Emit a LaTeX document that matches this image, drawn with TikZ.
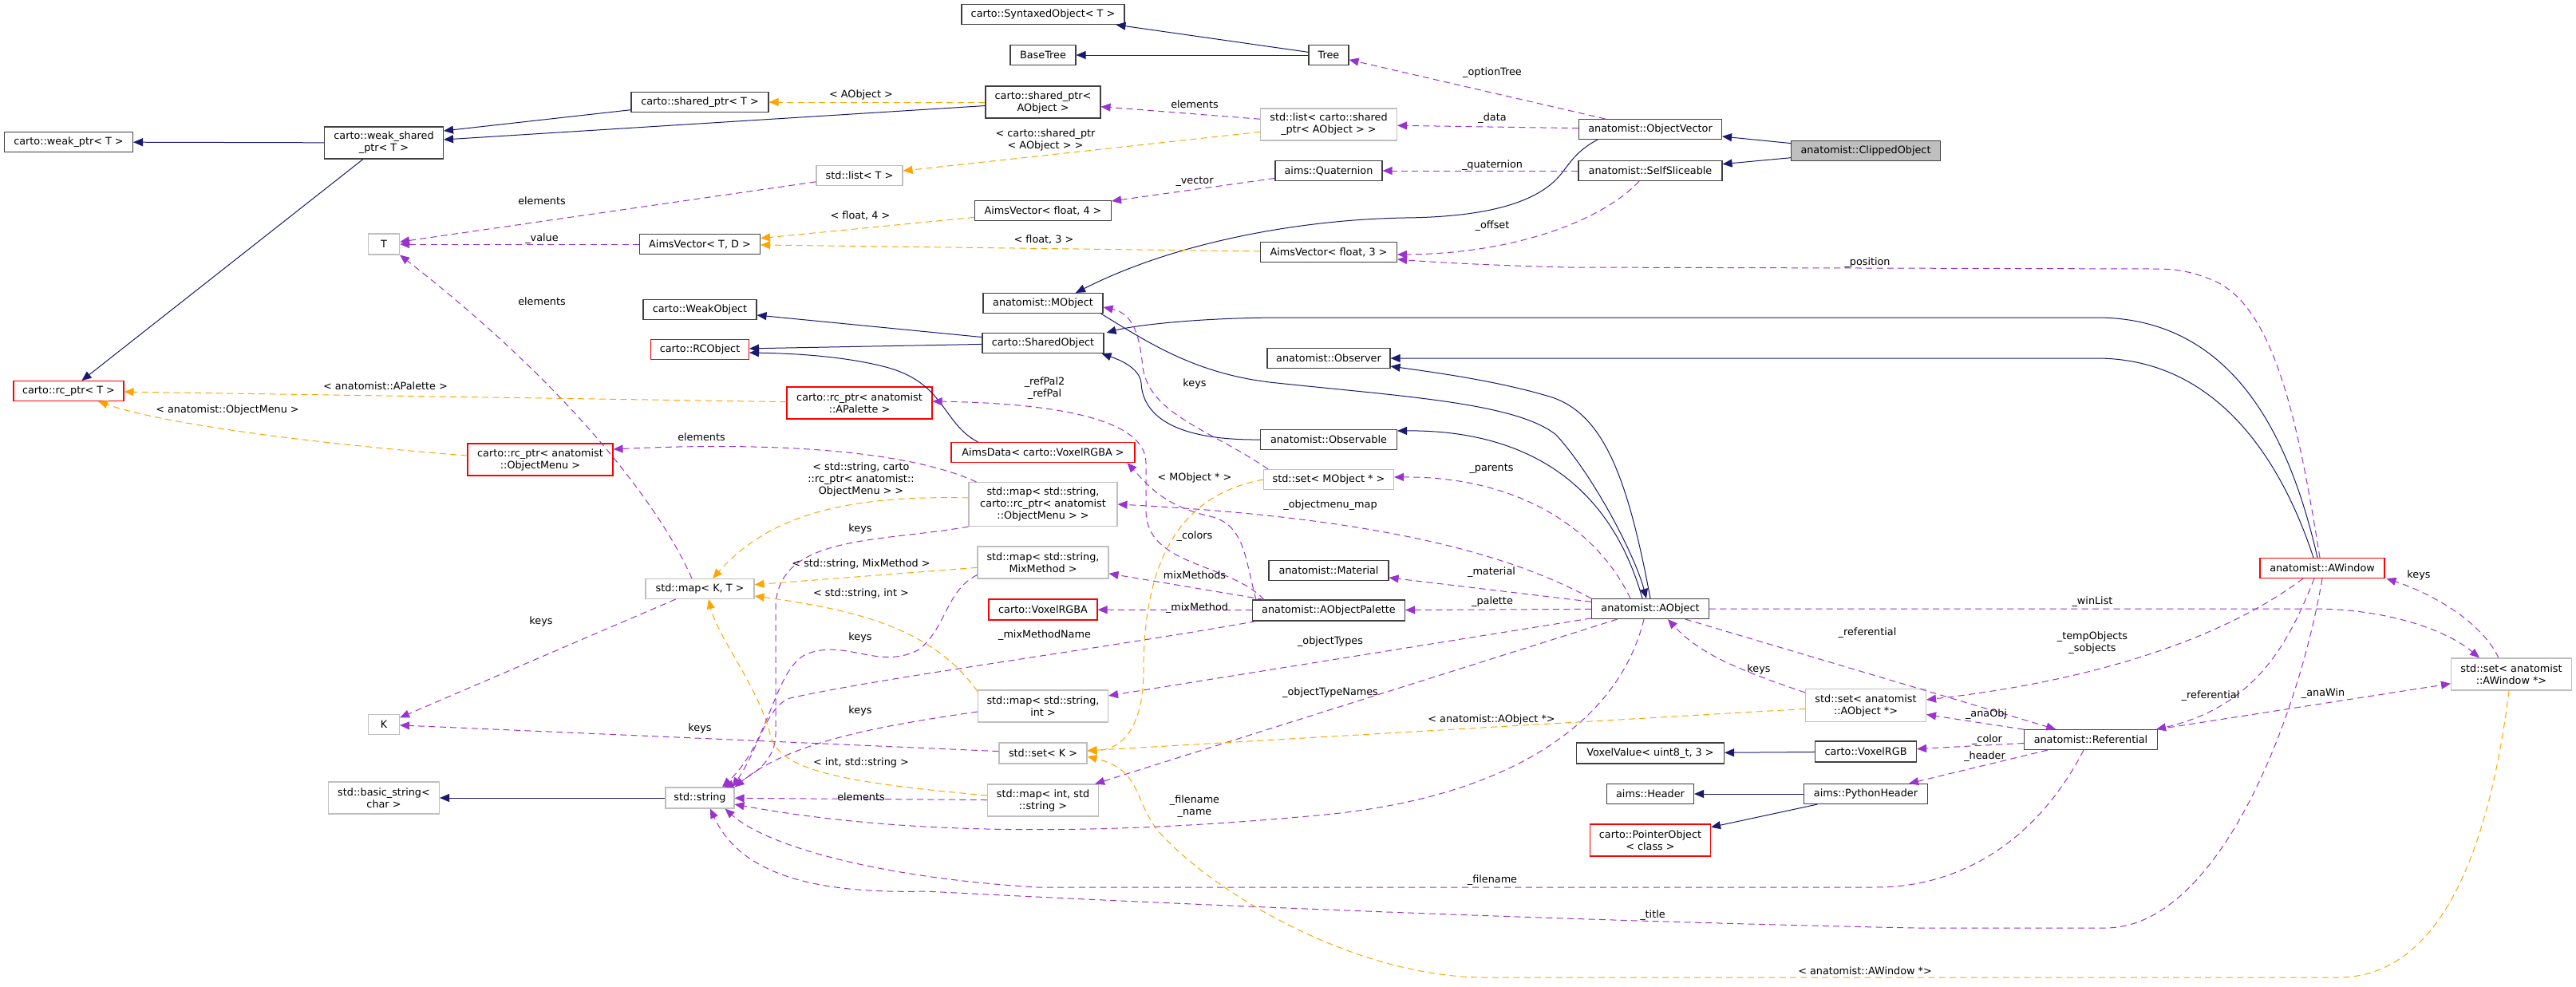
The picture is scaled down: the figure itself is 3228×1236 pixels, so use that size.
\documentclass[tikz,border=0pt]{standalone}
\usepackage{fontspec}
\setmainfont{DejaVu Sans}
\usetikzlibrary{arrows.meta,calc}
\definecolor{dxnavy}{HTML}{191970}
\definecolor{dxpurple}{HTML}{9A32CD}
\definecolor{dxorange}{HTML}{FFA500}
\definecolor{dxgray}{HTML}{BFBFBF}
\definecolor{dxred}{HTML}{FF0000}

\begin{document}
\begin{tikzpicture}[x=0.75pt,y=-0.75pt,
  font=\fontsize{9.6}{11.25}\selectfont,
  cls/.style={draw=black!75, line width=0.8pt, fill=white, inner sep=1pt, align=center},
  ext/.style={cls, draw=dxgray},
  inc/.style={cls, draw=dxred},
  cur/.style={cls, fill=dxgray},
  sz/.style 2 args={minimum width=#1*0.75pt, minimum height=#2*0.75pt},
  lbl/.style={inner sep=0pt, align=center, text=black},
  inh/.style={draw=dxnavy, line width=0.75pt, -{Triangle[length=9pt,width=7.5pt]}},
  use/.style={draw=dxpurple, line width=0.75pt, dash pattern=on 6pt off 4pt, -{Triangle[length=9pt,width=7.5pt]}},
  tpl/.style={use, draw=dxorange}]

  \path[use as bounding box, fill=white] (0,0) rectangle (3228,1236);

  % ---- classes, left half ----------------------------------
  \node[cls, sz={161}{25}] (weakptr) at (86,178) {carto::weak\_ptr< T >};
  \node[cls, sz={149}{40}] (weakshared) at (481,179) {carto::weak\_shared\\\_ptr< T >};
  \node[ext, sz={39}{26}] (T) at (481,306) {T};
  \node[inc, sz={138}{25}] (rcT) at (86,490) {carto::rc\_ptr< T >};
  \node[inc, sz={182}{40}] (rcMenu) at (677,576) {carto::rc\_ptr< anatomist\\::ObjectMenu >};
  \node[ext, sz={39}{25}] (K) at (481,908) {K};
  \node[ext, sz={139}{40}] (bstring) at (481,1000) {std::basic\_string<\\char >};

  \node[cls, sz={172}{25}] (sharedT) at (877,128) {carto::shared\_ptr< T >};
  \node[cls, sz={151}{25}] (avTD) at (877,306) {AimsVector< T, D >};
  \node[cls, sz={142}{25}] (weakobj) at (877,388) {carto::WeakObject};
  \node[inc, sz={123}{25}] (rcobj) at (877,438) {carto::RCObject};
  \node[ext, sz={136}{25}] (mapKT) at (877,738) {std::map< K, T >};
  \node[ext, sz={86}{26}] (string) at (877,1000) {std::string};

  \node[ext, sz={108}{25}] (listT) at (1077,220) {std::list< T >};
  \node[inc, sz={182}{40}] (rcPal) at (1077,505) {carto::rc\_ptr< anatomist\\::APalette >};

  % ---- classes, middle column -------------------------------
  \node[cls, sz={204}{25}] (syntaxed) at (1307,18) {carto::SyntaxedObject< T >};
  \node[cls, sz={82}{25}] (basetree) at (1307,69) {BaseTree};
  \node[cls, sz={144}{40}] (sharedAO) at (1307,128) {carto::shared\_ptr<\\AObject >};
  \node[cls, sz={171}{25}] (av4) at (1307,264) {AimsVector< float, 4 >};
  \node[cls, sz={150}{25}] (mobj) at (1307,380) {anatomist::MObject};
  \node[cls, sz={152}{25}] (sharedobj) at (1307,430) {carto::SharedObject};
  \node[inc, sz={230}{25}] (aimsdata) at (1307,567) {AimsData< carto::VoxelRGBA >};
  \node[ext, sz={186}{55}] (mapMenu) at (1307,632) {std::map< std::string,\\carto::rc\_ptr< anatomist\\::ObjectMenu > >};
  \node[ext, sz={164}{40}] (mapMix) at (1307,705) {std::map< std::string,\\MixMethod >};
  \node[inc, sz={136}{26}] (voxrgba) at (1307,764) {carto::VoxelRGBA};
  \node[ext, sz={163}{40}] (mapInt) at (1307,885) {std::map< std::string,\\int >};
  \node[ext, sz={110}{26}] (setK) at (1307,944) {std::set< K >};
  \node[ext, sz={139}{40}] (mapIntStr) at (1307,1003) {std::map< int, std\\::string >};

  \node[cls, sz={50}{25}] (tree) at (1665,69) {Tree};
  \node[ext, sz={171}{40}] (listSP) at (1665,156) {std::list< carto::shared\\\_ptr< AObject > >};
  \node[cls, sz={134}{25}] (quat) at (1665,214) {aims::Quaternion};
  \node[cls, sz={171}{25}] (av3) at (1665,316) {AimsVector< float, 3 >};
  \node[cls, sz={154}{25}] (observer) at (1665,449) {anatomist::Observer};
  \node[cls, sz={171}{25}] (observable) at (1665,551) {anatomist::Observable};
  \node[ext, sz={163}{25}] (setMObj) at (1665,601) {std::set< MObject * >};
  \node[cls, sz={150}{25}] (material) at (1665,715) {anatomist::Material};
  \node[cls, sz={191}{26}] (aopal) at (1665,765) {anatomist::AObjectPalette};

  % ---- classes, right half ----------------------------------
  \node[cls, sz={179}{25}] (objvec) at (2068,162) {anatomist::ObjectVector};
  \node[cls, sz={180}{25}] (selfsl) at (2068,214) {anatomist::SelfSliceable};
  \node[cls, sz={147}{25}] (aobj) at (2068,763) {anatomist::AObject};
  \node[cls, sz={185}{26}] (voxval) at (2068,944) {VoxelValue< uint8\_t, 3 >};
  \node[cls, sz={109}{25}] (header) at (2068,995) {aims::Header};
  \node[inc, sz={151}{40}] (ptrobj) at (2068,1053) {carto::PointerObject\\< class >};

  \node[cur, sz={187}{25}] (clipped) at (2338,189) {anatomist::ClippedObject};
  \node[ext, sz={151}{41}] (setAObj) at (2338,884) {std::set< anatomist\\::AObject *>};
  \node[cls, sz={127}{26}] (voxrgb) at (2338,942) {carto::VoxelRGB};
  \node[cls, sz={155}{25}] (pyheader) at (2338,995) {aims::PythonHeader};

  \node[cls, sz={167}{25}] (refer) at (2620,927) {anatomist::Referential};
  \node[inc, sz={156}{25}] (awin) at (2910,712) {anatomist::AWindow};
  \node[ext, sz={151}{40}] (setAWin) at (3147,845) {std::set< anatomist\\::AWindow *>};

  % ---- inheritance ------------------------------------------
  \draw[inh] (clipped) -- (objvec);
  \draw[inh] (clipped) -- (selfsl);
  \draw[inh] (tree) -- (syntaxed);
  \draw[inh] (tree) -- (basetree);
  \draw[inh] (sharedT) -- ($(weakshared.east)+(0,-15)$);
  \draw[inh] (sharedAO) -- ($(weakshared.east)+(0,-4)$);
  \draw[inh] (weakshared) -- (weakptr);
  \draw[inh] (weakshared) -- (rcT);
  \draw[inh] ($(objvec.south west)+(24,0)$) .. controls (1970,192) and (1965,210) .. (1950,225)
    .. controls (1920,255) and (1860,272) .. (1760,273) .. controls (1640,275) and (1480,300) .. ($(mobj.north)+(41,0)$);
  \draw[inh] ($(mobj.south east)+(-3,0)$) .. controls (1440,430) and (1500,470) .. (1600,480)
    .. controls (1760,497) and (1900,505) .. (1950,545) .. controls (2000,600) and (2050,700) .. ($(aobj.north)+(-5,0)$);
  \draw[inh] (aobj.north) .. controls (2040,600) and (2010,520) .. (1945,498)
    .. controls (1880,478) and (1800,467) .. ($(observer.south east)+(0,-3)$);
  \draw[inh] ($(aobj.north)+(-10,0)$) .. controls (2010,580) and (1880,539) .. ($(observable.north east)+(0,2)$);
  \draw[inh] ($(awin.north)+(-11,0)$) .. controls (2860,580) and (2780,449) .. (2627,449) -- (observer.east);
  \draw[inh] ($(awin.north)+(-6,0)$) .. controls (2870,550) and (2800,398) .. (2627,398) -- (1610,398)
    .. controls (1500,398) and (1420,408) .. ($(sharedobj.north east)+(3,0)$);
  \draw[inh] (observable.west) .. controls (1470,552) and (1432,520) .. (1430,480)
    .. controls (1428,460) and (1400,450) .. ($(sharedobj.south east)+(-3,0)$);
  \draw[inh] (sharedobj) -- (weakobj);
  \draw[inh] (sharedobj) -- (rcobj);
  \draw[inh] ($(aimsdata.north west)+(34,0)$) .. controls (1180,530) and (1185,480) .. (1110,460)
    .. controls (1060,447) and (1000,443) .. ($(rcobj.east)+(0,4)$);
  \draw[inh] (voxrgb) -- (voxval);
  \draw[inh] (pyheader) -- (header);
  \draw[inh] (pyheader) -- (ptrobj);
  \draw[inh] (string) -- (bstring);

  % ---- members ----------------------------------------------
  \draw[use] (objvec) -- (tree) node[lbl] at (1870,91) {\_optionTree};
  \draw[use] (objvec) -- (listSP) node[lbl] at (1870,148) {\_data};
  \draw[use] (listSP) -- (sharedAO) node[lbl] at (1497,131) {elements};
  \draw[use] (selfsl) -- (quat) node[lbl] at (1870,207) {\_quaternion};
  \draw[use] (quat) -- (av4) node[lbl] at (1497,228) {\_vector};
  \draw[use] ($(selfsl.south)+(-14,0)$) .. controls (2010,275) and (1900,318) .. ($(av3.east)+(0,3)$)
    node[lbl] at (1870,283) {\_offset};
  \draw[use] ($(awin.north)+(-3,0)$) .. controls (2880,530) and (2850,380) .. (2770,350)
    .. controls (2740,338) and (2720,337) .. (2700,337) -- (1966,335)
    .. controls (1880,333) and (1800,329) .. ($(av3.east)+(0,9)$) node[lbl] at (2340,329) {\_position};
  \draw[use] ($(setMObj.north west)+(6,0)$) .. controls (1520,540) and (1440,520) .. (1432,460)
    .. controls (1428,420) and (1420,393) .. ($(mobj.east)+(0,5)$) node[lbl] at (1497,481) {keys};
  \draw[use] ($(aobj.north)+(-25,0)$) .. controls (2000,660) and (1900,597) .. ($(setMObj.east)+(0,-3)$)
    node[lbl] at (1869,588) {\_parents};
  \draw[use] (aobj.north west) .. controls (1900,700) and (1750,650) .. (mapMenu.east)
    node[lbl] at (1667,633) {\_objectmenu\_map};
  \draw[use] (aobj) -- (material) node[lbl] at (1869,717) {\_material};
  \draw[use] (aobj) -- (aopal) node[lbl] at (1870,754) {\_palette};
  \draw[use] (aobj) -- (mapInt) node[lbl] at (1667,804) {\_objectTypes};
  \draw[use] (aobj) -- (mapIntStr) node[lbl] at (1667,868) {\_objectTypeNames};
  \draw[use] ($(aobj.south)+(-8,0)$) .. controls (2030,900) and (1900,1000) .. (1650,1022)
    .. controls (1400,1045) and (1150,1050) .. ($(string.east)+(0,8)$) node[lbl] at (1497,1011) {\_filename\\\_name};
  \draw[use] (aobj) -- (refer) node[lbl] at (2340,793) {\_referential};
  \draw[use] (aobj.east) -- (2900,763) .. controls (2980,763) and (3060,785) .. ($(setAWin.north)+(-40,0)$)
    node[lbl] at (2622,754) {\_winList};
  \draw[use] ($(setAWin.north)+(-16,0)$) .. controls (3110,780) and (3050,745) .. ($(awin.south east)+(2,0)$)
    node[lbl] at (3031,721) {keys};
  \draw[use] ($(awin.south)+(-24,0)$) .. controls (2800,790) and (2650,850) .. ($(setAObj.east)+(0,-7)$)
    node[lbl] at (2622,806) {\_tempObjects\\\_sobjects};
  \draw[use] ($(awin.south)+(-10,0)$) .. controls (2870,800) and (2830,885) .. ($(refer.north east)+(-2,0)$)
    node[lbl] at (2770,872) {\_referential};
  \draw[use] (awin.south) .. controls (2880,900) and (2780,1163) .. (2638,1163) -- (2400,1163)
    .. controls (2000,1155) and (1500,1135) .. (1160,1117)
    .. controls (1030,1120) and (930,1100) .. ($(string.south)+(13,0)$) node[lbl] at (2071,1147) {\_title};
  \draw[use] ($(refer.south)+(-9,0)$) .. controls (2560,1040) and (2470,1112) .. (2350,1112) -- (1300,1112)
    .. controls (1100,1100) and (960,1060) .. ($(string.south east)+(-12,0)$) node[lbl] at (1870,1103) {\_filename};
  \draw[use] (refer) -- (setAObj) node[lbl] at (2489,895) {\_anaObj};
  \draw[use] (refer) -- (voxrgb) node[lbl] at (2490,927) {\_color};
  \draw[use] (refer) -- (pyheader) node[lbl] at (2487,948) {\_header};
  \draw[use] (refer) -- (setAWin) node[lbl] at (2911,869) {\_anaWin};
  \draw[use] ($(setAObj.north west)+(0,5)$) .. controls (2180,840) and (2130,820) .. ($(aobj.south)+(22,0)$)
    node[lbl] at (2204,839) {keys};
  \draw[use] (setK) -- (K) node[lbl] at (877,913) {keys};
  \draw[use] (mapKT) -- (K) node[lbl] at (678,779) {keys};
  \draw[use] ($(mapKT.north)+(-10,0)$) .. controls (830,640) and (720,490) .. (T.south east)
    node[lbl] at (679,378) {elements};
  \draw[use] (listT) -- (T) node[lbl] at (679,252) {elements};
  \draw[use] (avTD) -- (T) node[lbl] at (679,299) {\_value};
  \draw[use] ($(mapMenu.north west)+(10,0)$) .. controls (1150,570) and (1000,552) .. ($(rcMenu.east)+(0,-13)$)
    node[lbl] at (879,548) {elements};
  \draw[use] ($(aopal.north west)+(15,0)$) .. controls (1540,705) and (1436,710) .. (1436,640) -- (1436,580)
    .. controls (1436,520) and (1300,505) .. ($(rcPal.east)+(0,-2)$) node[lbl] at (1309,487) {\_refPal2\\\_refPal};
  \draw[use] ($(aopal.north west)+(5,0)$) .. controls (1560,700) and (1560,660) .. (1520,648)
    .. controls (1460,635) and (1440,610) .. ($(aimsdata.south east)+(-10,0)$) node[lbl] at (1497,672) {\_colors};
  \draw[use] (aopal) -- (mapMix) node[lbl] at (1497,721) {mixMethods};
  \draw[use] (aopal) -- (voxrgba) node[lbl] at (1500,762) {\_mixMethod};
  \draw[use] ($(aopal.south west)+(5,0)$) .. controls (1400,810) and (1100,850) .. (990,875)
    .. controls (960,885) and (950,940) .. ($(string.north east)+(-3,0)$) node[lbl] at (1309,796) {\_mixMethodName};
  \draw[use] (mapMenu.south west) .. controls (1100,680) and (975,670) .. (972,760) -- (972,920)
    .. controls (972,955) and (940,975) .. ($(string.north)+(30,0)$) node[lbl] at (1078,663) {keys};
  \draw[use] ($(mapMix.south west)+(0,-5)$) .. controls (1185,740) and (1185,790) .. (1150,815)
    .. controls (1100,840) and (1060,800) .. (1010,820)
    .. controls (970,840) and (965,930) .. ($(string.north)+(28,0)$) node[lbl] at (1078,799) {keys};
  \draw[use] ($(mapInt.west)+(0,7)$) .. controls (1100,910) and (990,930) .. (string.north east)
    node[lbl] at (1078,891) {keys};
  \draw[use] (mapIntStr) -- (string) node[lbl] at (1079,999) {elements};

  % ---- template instances -----------------------------------
  \draw[tpl] (sharedAO) -- (sharedT) node[lbl] at (1079,119) {< AObject >};
  \draw[tpl] (listSP) -- (listT) node[lbl] at (1310,175) {< carto::shared\_ptr\\< AObject > >};
  \draw[tpl] (av4) -- (avTD) node[lbl] at (1078,270) {< float, 4 >};
  \draw[tpl] (av3) -- (avTD) node[lbl] at (1308,300) {< float, 3 >};
  \draw[tpl] (rcPal) -- (rcT) node[lbl] at (483,484) {< anatomist::APalette >};
  \draw[tpl] ($(rcMenu.west)+(0,-5)$) .. controls (380,555) and (200,530) .. ($(rcT.south)+(37,0)$)
    node[lbl] at (285,514) {< anatomist::ObjectMenu >};
  \draw[tpl] ($(mapMenu.west)+(0,-8)$) .. controls (1050,620) and (960,650) .. ($(mapKT.north)+(16,0)$)
    node[lbl] at (1079,601) {< std::string, carto\\::rc\_ptr< anatomist::\\ObjectMenu > >};
  \draw[tpl] (mapMix) -- (mapKT) node[lbl] at (1079,707) {< std::string, MixMethod >};
  \draw[tpl] ($(mapInt.north west)+(0,2)$) .. controls (1170,790) and (1080,765) .. ($(mapKT.east)+(0,9)$)
    node[lbl] at (1079,744) {< std::string, int >};
  \draw[tpl] ($(mapIntStr.west)+(0,-6)$) .. controls (1050,980) and (975,965) .. (965,920)
    .. controls (950,860) and (900,800) .. ($(mapKT.south)+(11,0)$) node[lbl] at (1079,956) {< int, std::string >};
  \draw[tpl] (setMObj.west) .. controls (1480,620) and (1433,700) .. (1433,840)
    .. controls (1433,920) and (1400,940) .. ($(setK.east)+(0,-3)$) node[lbl] at (1497,599) {< MObject * >};
  \draw[tpl] (setAObj) -- (setK) node[lbl] at (1869,902) {< anatomist::AObject *>};
  \draw[tpl] ($(setAWin.south)+(-3,0)$) .. controls (3120,1060) and (3060,1225) .. (2930,1225) -- (1861,1225)
    .. controls (1700,1225) and (1520,1120) .. (1450,1040)
    .. controls (1420,1000) and (1430,965) .. ($(setK.east)+(0,4)$) node[lbl] at (2337,1217) {< anatomist::AWindow *>};

\end{tikzpicture}
\end{document}
